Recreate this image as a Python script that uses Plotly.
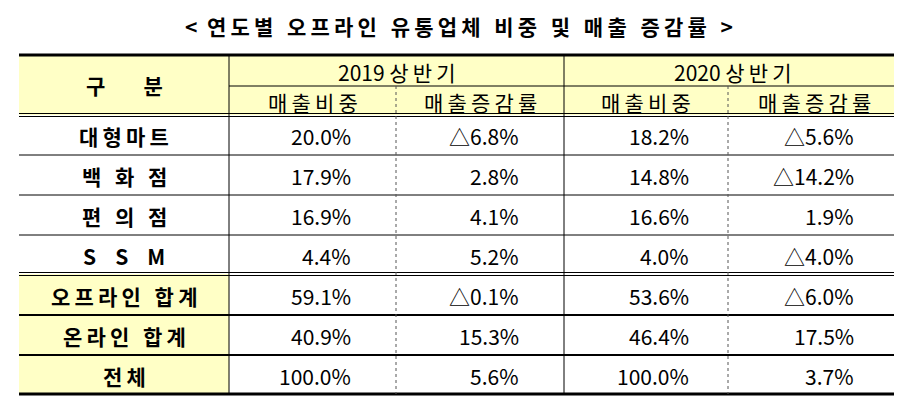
import plotly.graph_objects as go

title = "< 연도별 오프라인 유통업체 비중 및 매출 증감률 >"
years = ["2019 상반기", "2020 상반기"]
sub_headers = ["매출비중", "매출증감률", "매출비중", "매출증감률"]
row_labels = ["대형마트", "백 화 점", "편 의 점", "S  S  M", "오프라인 합계", "온라인 합계", "전체"]
share_2019 = ["20.0%", "17.9%", "16.9%", "4.4%", "59.1%", "40.9%", "100.0%"]
growth_2019 = ["△6.8%", "2.8%", "4.1%", "5.2%", "△0.1%", "15.3%", "5.6%"]
share_2020 = ["18.2%", "14.8%", "16.6%", "4.0%", "53.6%", "46.4%", "100.0%"]
growth_2020 = ["△5.6%", "△14.2%", "1.9%", "△4.0%", "△6.0%", "17.5%", "3.7%"]

FONT = "Noto Sans CJK KR"
YELLOW = "#FFFFC6"
cols_x = [11, 221, 388, 556, 720, 893]
rows_y = [107, 147, 187, 227, 266, 307, 347, 386]
top, mid = 47, 78

shapes = []
annotations = []


def spaced(s):
    # imitate the wide letter spacing of the original Korean font
    out = []
    for ch in s:
        out.append(ch)
        if "\uac00" <= ch <= "\ud7a3":
            out.append("\u2009")
    return "".join(out).rstrip("\u2009")


def line(x0, y0, x1, y1, width=1, dash="solid", color="black"):
    shapes.append(dict(type="line", x0=x0, y0=y0, x1=x1, y1=y1,
                       line=dict(color=color, width=width, dash=dash)))


def rect(x0, y0, x1, y1, color):
    shapes.append(dict(type="rect", x0=x0, y0=y0, x1=x1, y1=y1,
                       fillcolor=color, line=dict(width=0), layer="below"))


def text(x, y, s, anchor="center", size=20, bold=False):
    annotations.append(dict(x=x, y=y, text=f"<b>{s}</b>" if bold else s, showarrow=False,
                            xanchor=anchor, yanchor="middle",
                            font=dict(family=FONT, size=size, color="black")))


# fills
rect(cols_x[0], top, cols_x[-1], rows_y[0], YELLOW)
for i in range(4, 7):
    rect(cols_x[0], rows_y[i], cols_x[1], rows_y[i + 1], YELLOW)

# title
text(451, 18, spaced(title).replace(" ", "  "), size=21, bold=True)

# header
text((cols_x[0] + cols_x[1]) / 2, (top + rows_y[0]) / 2, "구        분", size=21, bold=True)
for k, y in enumerate(years):
    text((cols_x[1 + 2 * k] + cols_x[3 + 2 * k]) / 2, (top + mid) / 2 + 1, spaced(y), size=21)
for k, s in enumerate(sub_headers):
    text((cols_x[1 + k] + cols_x[2 + k]) / 2, (mid + rows_y[0]) / 2 + 1, spaced(s), size=21)

# body
pads = [43, 43, 37, 45]
for i, lab in enumerate(row_labels):
    yc = (rows_y[i] + rows_y[i + 1]) / 2 + 1
    text((cols_x[0] + cols_x[1]) / 2, yc, spaced(lab).replace(" ", "  "), size=21, bold=True)
    for k, col in enumerate([share_2019, growth_2019, share_2020, growth_2020]):
        text(cols_x[2 + k] - pads[k], yc, col[i], anchor="right", size=21)

# borders
line(cols_x[0], top, cols_x[-1], top, 3)
line(cols_x[1], mid, cols_x[-1], mid, 1)
line(cols_x[0], rows_y[0] - 1.5, cols_x[-1], rows_y[0] - 1.5, 1)
line(cols_x[0], rows_y[0] + 1.5, cols_x[-1], rows_y[0] + 1.5, 1)
for y in rows_y[1:4]:
    line(cols_x[0], y, cols_x[-1], y, 1)
line(cols_x[0], rows_y[4] - 1.5, cols_x[-1], rows_y[4] - 1.5, 1)
line(cols_x[0], rows_y[4] + 1.5, cols_x[-1], rows_y[4] + 1.5, 1)
for y in rows_y[5:7]:
    line(cols_x[0], y, cols_x[-1], y, 2)
line(cols_x[0], rows_y[-1], cols_x[-1], rows_y[-1], 3)
line(cols_x[1], top, cols_x[1], rows_y[-1], 1)
line(cols_x[3], top, cols_x[3], rows_y[-1], 1)
line(cols_x[2], mid, cols_x[2], rows_y[-1], 1, "dot", "#555555")
line(cols_x[4], mid, cols_x[4], rows_y[-1], 1, "dot", "#555555")

fig = go.Figure()
fig.update_layout(
    width=902, height=403,
    margin=dict(l=0, r=0, t=0, b=0),
    paper_bgcolor="white", plot_bgcolor="white",
    xaxis=dict(range=[0, 902], visible=False, fixedrange=True),
    yaxis=dict(range=[403, 0], visible=False, fixedrange=True),
    shapes=shapes, annotations=annotations, showlegend=False,
)
fig.write_html("out.html", config=dict(displayModeBar=False))
